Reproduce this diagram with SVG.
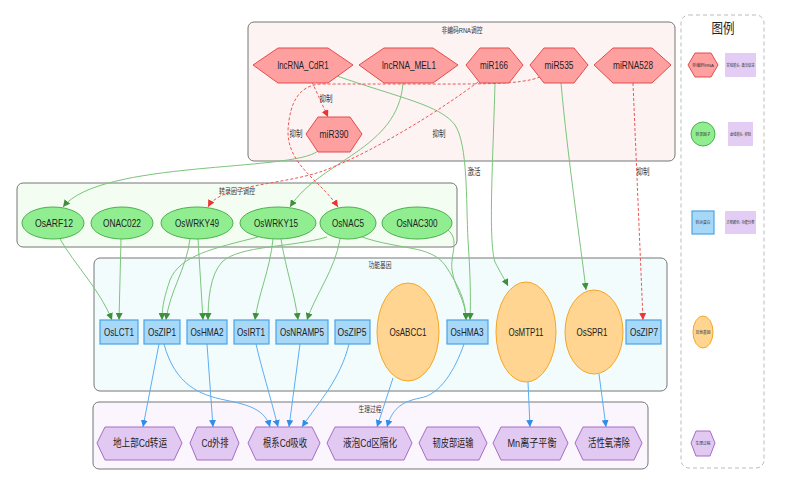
<svg xmlns="http://www.w3.org/2000/svg" width="788" height="478" viewBox="0 0 788 478">
<defs>
<style>
.t{font-family:"Liberation Sans","Noto Sans CJK SC",Arial,sans-serif;font-size:11px;fill:#222;text-anchor:middle;dominant-baseline:central}
.ct{font-family:"Liberation Sans","Noto Sans CJK SC",sans-serif;font-size:8px;fill:#333;text-anchor:middle;dominant-baseline:central}
.el{font-family:"Liberation Sans","Noto Sans CJK SC",sans-serif;font-size:9px;fill:#333;text-anchor:middle;dominant-baseline:central}
.lt{font-family:"Liberation Sans","Noto Sans CJK SC",sans-serif;font-size:4px;fill:#333;text-anchor:middle;dominant-baseline:central}
.nc{fill:#ffa0a0;stroke:#e34b4b;stroke-width:1}
.tf{fill:#90ee90;stroke:#4caf50;stroke-width:1}
.tr{fill:#a8d8f8;stroke:#4aa3e8;stroke-width:1.2}
.og{fill:#ffd591;stroke:#f5a623;stroke-width:1}
.pr{fill:#e2c9f2;stroke:#a46cc8;stroke-width:1}
.cl{stroke:#777;stroke-width:1}
.g{fill:none;stroke:#7cc47c;stroke-width:1;marker-end:url(#ag)}
.r{fill:none;stroke:#e55;stroke-width:1;stroke-dasharray:3 2;marker-end:url(#ar)}
.b{fill:none;stroke:#5aaef5;stroke-width:1;marker-end:url(#ab)}
</style>
<marker id="ag" viewBox="0 0 10 10" refX="10" refY="5" markerWidth="7" markerHeight="7" markerUnits="userSpaceOnUse" orient="auto"><path d="M0,0 L10,5 L0,10 z" fill="#3f8f3f"/></marker>
<marker id="ar" viewBox="0 0 10 10" refX="10" refY="5" markerWidth="7" markerHeight="7" markerUnits="userSpaceOnUse" orient="auto"><path d="M0,0 L10,5 L0,10 z" fill="#e33"/></marker>
<marker id="ab" viewBox="0 0 10 10" refX="10" refY="5" markerWidth="7" markerHeight="7" markerUnits="userSpaceOnUse" orient="auto"><path d="M0,0 L10,5 L0,10 z" fill="#2f8fe8"/></marker>
</defs>
<rect width="788" height="478" fill="#fff"/>

<g id="clusters">
<rect class="cl" x="248" y="22" width="427" height="139" rx="6" fill="#fdf3f3"/>
<text class="ct" x="462" y="30" textLength="41" lengthAdjust="spacingAndGlyphs">非编码RNA调控</text>
<rect class="cl" x="17" y="183" width="440" height="64" rx="6" fill="#f4fdf1"/>
<text class="ct" x="237" y="191" textLength="36" lengthAdjust="spacingAndGlyphs">转录因子调控</text>
<rect class="cl" x="94" y="258" width="573" height="133" rx="6" fill="#f3fcfd"/>
<text class="ct" x="380" y="265" textLength="23" lengthAdjust="spacingAndGlyphs">功能基因</text>
<rect class="cl" x="93" y="402" width="555" height="67" rx="6" fill="#fbf5fd"/>
<text class="ct" x="370" y="409" textLength="23" lengthAdjust="spacingAndGlyphs">生理过程</text>
</g>

<g id="connectors">
<path class="g" d="M318,151 C292,172 100,160 63,207"/>
<path class="g" d="M403,83 C398,150 320,160 290,207"/>
<path class="g" d="M337,76 C400,98 440,105 455,125 C468,145 466,200 468,240 C470,270 471,295 470,320"/>
<path class="g" d="M495,83 C493,160 488,240 495,262 C500,272 505,280 508,286"/>
<path class="g" d="M561,83 C568,160 580,240 586,290"/>
<path class="g" d="M60,239 C75,265 100,290 112,320"/>
<path class="g" d="M121,239 L119,320"/>
<path class="g" d="M190,239 C186,270 170,290 166,320"/>
<path class="g" d="M198,239 L203,320"/>
<path class="g" d="M258,237 C215,248 180,255 170,280 C165,295 162,305 162,320"/>
<path class="g" d="M273,239 C270,270 258,295 255,320"/>
<path class="g" d="M281,239 C286,270 295,295 298,320"/>
<path class="g" d="M327,237 C290,248 240,245 222,262 C210,275 208,300 208,320"/>
<path class="g" d="M340,239 C335,270 315,295 307,320"/>
<path class="g" d="M362,237 C400,250 430,245 445,265 C458,285 466,300 466,320"/>
<path class="g" d="M448,230 C460,240 450,255 452,270 C455,290 466,300 466,320"/>
<path class="r" d="M312,82 L328,117"/>
<path class="r" d="M478,82 C420,125 355,160 320,172 C280,185 220,185 208,207"/>
<path class="r" d="M540,77 C520,85 480,84 400,84 L320,84 C300,86 290,100 288,130 C287,165 320,180 338,207"/>
<path class="r" d="M633,83 L643,320"/>
<path class="b" d="M159,344 L143,427"/>
<path class="b" d="M164,344 C175,385 200,395 225,400 C250,405 265,410 270,427"/>
<path class="b" d="M207,344 L213,427"/>
<path class="b" d="M256,344 C262,370 270,395 278,427"/>
<path class="b" d="M300,344 L289,427"/>
<path class="b" d="M349,344 C340,380 320,400 302,427"/>
<path class="b" d="M393,378 L377,427"/>
<path class="b" d="M464,344 C455,370 440,395 420,398 C400,402 392,410 387,427"/>
<path class="b" d="M528,382 L530,427"/>
<path class="b" d="M599,374 L606,427"/>
<text class="el" x="326" y="99" textLength="13" lengthAdjust="spacingAndGlyphs">抑制</text>
<text class="el" x="296" y="134" textLength="13" lengthAdjust="spacingAndGlyphs">抑制</text>
<text class="el" x="439" y="134" textLength="13" lengthAdjust="spacingAndGlyphs">抑制</text>
<text class="el" x="474" y="172" textLength="13" lengthAdjust="spacingAndGlyphs">激活</text>
<text class="el" x="643" y="172" textLength="13" lengthAdjust="spacingAndGlyphs">抑制</text>
</g>

<g id="lncRNA_CdR1"><polygon class="nc" points="253,65 278,48 328,48 353,65 328,83 278,83"/><text class="t" x="303" y="65" textLength="51" lengthAdjust="spacingAndGlyphs">lncRNA_CdR1</text></g>
<g id="lncRNA_MEL1"><polygon class="nc" points="359,65 384,48 433,48 458,65 433,83 384,83"/><text class="t" x="409" y="65" textLength="54" lengthAdjust="spacingAndGlyphs">lncRNA_MEL1</text></g>
<g id="miR166"><polygon class="nc" points="466,65 480,48 509,48 523,65 509,83 480,83"/><text class="t" x="494" y="65" textLength="28" lengthAdjust="spacingAndGlyphs">miR166</text></g>
<g id="miR535"><polygon class="nc" points="530,65 544,48 574,48 588,65 574,83 544,83"/><text class="t" x="559" y="65" textLength="29" lengthAdjust="spacingAndGlyphs">miR535</text></g>
<g id="miRNA528"><polygon class="nc" points="594,65 613,48 652,48 671,65 652,83 613,83"/><text class="t" x="633" y="65" textLength="40" lengthAdjust="spacingAndGlyphs">miRNA528</text></g>
<g id="miR390"><polygon class="nc" points="306,134 318,117 350,117 362,134 350,152 318,152"/><text class="t" x="334" y="134" textLength="29" lengthAdjust="spacingAndGlyphs">miR390</text></g>

<g id="OsARF12"><ellipse class="tf" cx="53" cy="223" rx="31" ry="16"/><text class="t" x="54" y="223" textLength="38" lengthAdjust="spacingAndGlyphs">OsARF12</text></g>
<g id="ONAC022"><ellipse class="tf" cx="122" cy="223" rx="31" ry="16"/><text class="t" x="122" y="223" textLength="38" lengthAdjust="spacingAndGlyphs">ONAC022</text></g>
<g id="OsWRKY49"><ellipse class="tf" cx="197" cy="223" rx="36" ry="16"/><text class="t" x="197" y="223" textLength="44" lengthAdjust="spacingAndGlyphs">OsWRKY49</text></g>
<g id="OsWRKY15"><ellipse class="tf" cx="278" cy="223" rx="38" ry="16"/><text class="t" x="276" y="223" textLength="44" lengthAdjust="spacingAndGlyphs">OsWRKY15</text></g>
<g id="OsNAC5"><ellipse class="tf" cx="348" cy="223" rx="28" ry="16"/><text class="t" x="348" y="223" textLength="32" lengthAdjust="spacingAndGlyphs">OsNAC5</text></g>
<g id="OsNAC300"><ellipse class="tf" cx="417" cy="223" rx="35" ry="16"/><text class="t" x="417" y="223" textLength="41" lengthAdjust="spacingAndGlyphs">OsNAC300</text></g>

<g id="OsLCT1"><rect class="tr" x="100" y="320" width="38" height="24"/><text class="t" x="119" y="332" textLength="30" lengthAdjust="spacingAndGlyphs">OsLCT1</text></g>
<g id="OsZIP1"><rect class="tr" x="144" y="320" width="36" height="24"/><text class="t" x="162" y="332" textLength="28" lengthAdjust="spacingAndGlyphs">OsZIP1</text></g>
<g id="OsHMA2"><rect class="tr" x="187" y="320" width="40" height="24"/><text class="t" x="207" y="332" textLength="33" lengthAdjust="spacingAndGlyphs">OsHMA2</text></g>
<g id="OsIRT1"><rect class="tr" x="234" y="320" width="35" height="24"/><text class="t" x="251" y="332" textLength="28" lengthAdjust="spacingAndGlyphs">OsIRT1</text></g>
<g id="OsNRAMP5"><rect class="tr" x="276" y="320" width="52" height="24"/><text class="t" x="302" y="332" textLength="44" lengthAdjust="spacingAndGlyphs">OsNRAMP5</text></g>
<g id="OsZIP5"><rect class="tr" x="335" y="320" width="35" height="24"/><text class="t" x="352" y="332" textLength="29" lengthAdjust="spacingAndGlyphs">OsZIP5</text></g>
<g id="OsABCC1"><ellipse class="og" cx="408" cy="332" rx="31" ry="49"/><text class="t" x="408" y="332" textLength="37" lengthAdjust="spacingAndGlyphs">OsABCC1</text></g>
<g id="OsHMA3"><rect class="tr" x="447" y="320" width="41" height="24"/><text class="t" x="467" y="332" textLength="33" lengthAdjust="spacingAndGlyphs">OsHMA3</text></g>
<g id="OsMTP11"><ellipse class="og" cx="526" cy="332" rx="30" ry="50"/><text class="t" x="526" y="332" textLength="35" lengthAdjust="spacingAndGlyphs">OsMTP11</text></g>
<g id="OsSPR1"><ellipse class="og" cx="594" cy="332" rx="29" ry="42"/><text class="t" x="592" y="332" textLength="31" lengthAdjust="spacingAndGlyphs">OsSPR1</text></g>
<g id="OsZIP7"><rect class="tr" x="626" y="320" width="35" height="24"/><text class="t" x="644" y="332" textLength="28" lengthAdjust="spacingAndGlyphs">OsZIP7</text></g>

<g id="p_shoot"><polygon class="pr" points="97,443 105,427 174,427 182,443 174,460 105,460"/><text class="t" x="140" y="443" textLength="54" lengthAdjust="spacingAndGlyphs">地上部Cd转运</text></g>
<g id="p_efflux"><polygon class="pr" points="190,443 197,427 232,427 239,443 232,460 197,460"/><text class="t" x="215" y="443" textLength="27" lengthAdjust="spacingAndGlyphs">Cd外排</text></g>
<g id="p_root"><polygon class="pr" points="248,443 256,427 312,427 320,443 312,460 256,460"/><text class="t" x="285" y="443" textLength="44" lengthAdjust="spacingAndGlyphs">根系Cd吸收</text></g>
<g id="p_vacuole"><polygon class="pr" points="327,443 335,427 404,427 412,443 404,460 335,460"/><text class="t" x="370" y="443" textLength="54" lengthAdjust="spacingAndGlyphs">液泡Cd区隔化</text></g>
<g id="p_phloem"><polygon class="pr" points="419,443 427,427 479,427 487,443 479,460 427,460"/><text class="t" x="453" y="443" textLength="41" lengthAdjust="spacingAndGlyphs">韧皮部运输</text></g>
<g id="p_mn"><polygon class="pr" points="493,443 501,427 560,427 568,443 560,460 501,460"/><text class="t" x="532" y="443" textLength="49" lengthAdjust="spacingAndGlyphs">Mn离子平衡</text></g>
<g id="p_ros"><polygon class="pr" points="575,443 583,427 634,427 642,443 634,460 583,460"/><text class="t" x="609" y="443" textLength="42" lengthAdjust="spacingAndGlyphs">活性氧清除</text></g>

<g id="legend">
<rect x="681" y="15" width="83" height="453" rx="8" fill="#fff" stroke="#bbb" stroke-dasharray="4 3"/>
<text x="723" y="28" font-family="Liberation Sans,Noto Sans CJK SC,sans-serif" font-size="14" text-anchor="middle" dominant-baseline="central" fill="#222" textLength="23" lengthAdjust="spacingAndGlyphs">图例</text>
<polygon class="nc" points="688,65 695,53 711,53 718,65 711,77 695,77"/>
<text class="lt" x="703" y="65" textLength="22" lengthAdjust="spacingAndGlyphs">非编码RNA</text>
<rect x="725" y="53" width="31" height="24" fill="#e4cdf4"/>
<text class="lt" x="740.5" y="65" textLength="28" lengthAdjust="spacingAndGlyphs">实线箭头: 激活促进</text>
<circle class="tf" cx="703" cy="134" r="12"/>
<text class="lt" x="703" y="134" textLength="15" lengthAdjust="spacingAndGlyphs">转录因子</text>
<rect x="728" y="122" width="25" height="24" fill="#e4cdf4"/>
<text class="lt" x="740.5" y="134" textLength="21" lengthAdjust="spacingAndGlyphs">虚线箭头: 抑制</text>
<rect class="tr" x="692" y="211" width="22" height="23"/>
<text class="lt" x="703" y="222.5" textLength="15" lengthAdjust="spacingAndGlyphs">转运蛋白</text>
<rect x="725" y="211" width="31" height="23" fill="#e4cdf4"/>
<text class="lt" x="740.5" y="222.5" textLength="28" lengthAdjust="spacingAndGlyphs">方框颜色: 功能分类</text>
<ellipse class="og" cx="703" cy="332" rx="10" ry="16"/>
<text class="lt" x="703" y="332" textLength="15" lengthAdjust="spacingAndGlyphs">其他基因</text>
<polygon class="pr" points="691,443 696,431 710,431 715,443 710,456 696,456"/>
<text class="lt" x="703" y="443" textLength="15" lengthAdjust="spacingAndGlyphs">生理过程</text>
</g>
</svg>
